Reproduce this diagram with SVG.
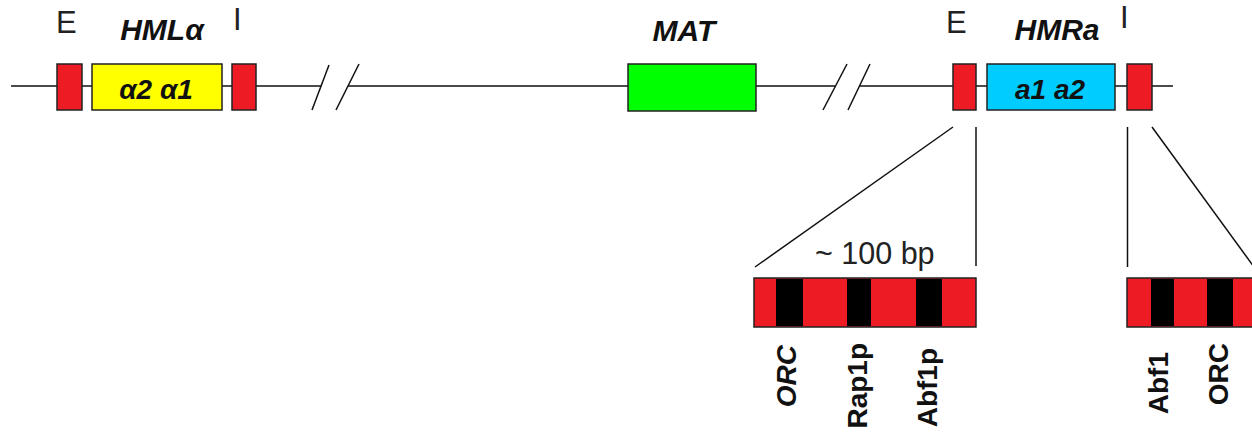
<svg xmlns="http://www.w3.org/2000/svg" width="1252" height="435" viewBox="0 0 1252 435">
<style>
.ln{stroke:#111;stroke-width:1.5;fill:none}
.box{stroke:#222;stroke-width:1.5}
.red{fill:#ed1c24}
.blk{fill:#000}
.lbl{font-family:"Liberation Sans",Arial,sans-serif;font-size:31px;fill:#222}
.gene{font-family:"Liberation Sans",Arial,sans-serif;font-size:30px;font-weight:bold;font-style:italic;fill:#111;text-anchor:middle}
.in{font-family:"Liberation Sans",Arial,sans-serif;font-size:28px;font-weight:bold;font-style:italic;fill:#111;text-anchor:middle}
.vt{font-family:"Liberation Sans",Arial,sans-serif;font-size:28px;font-weight:bold;fill:#111;text-anchor:end}
</style>
<rect width="1252" height="435" fill="#fff"/>
<g id="connectors">
<line class="ln" x1="11" y1="86" x2="321" y2="86"/>
<line class="ln" x1="348" y1="86" x2="835" y2="86"/>
<line class="ln" x1="860" y1="86" x2="1173" y2="86"/>
<line class="ln" x1="312" y1="110" x2="329" y2="65"/>
<line class="ln" x1="336" y1="110" x2="359" y2="64"/>
<line class="ln" x1="823" y1="110" x2="847" y2="64"/>
<line class="ln" x1="848" y1="110" x2="870" y2="64"/>
<line class="ln" x1="953" y1="127" x2="755" y2="267"/>
<line class="ln" x1="976" y1="127" x2="976" y2="266"/>
<line class="ln" x1="1127.5" y1="127" x2="1127.5" y2="267"/>
<line class="ln" x1="1152" y1="127" x2="1254" y2="267"/>
</g>
<g id="hml-e"><rect class="box red" x="57" y="64" width="25" height="46"/><text class="lbl" x="56" y="33">E</text></g>
<g id="hml"><rect class="box" fill="#ffff00" x="92" y="64" width="130" height="46"/><text class="gene" x="162" y="40">HMLα</text><text class="in" x="156" y="99">α2 α1</text></g>
<g id="hml-i"><rect class="box red" x="232" y="64" width="24" height="46"/><text class="lbl" x="233" y="30">I</text></g>
<g id="mat"><rect class="box" fill="#00ff00" x="628" y="64" width="128" height="47"/><text class="gene" x="684" y="41">MAT</text></g>
<g id="hmr-e"><rect class="box red" x="953" y="64" width="23" height="46"/><text class="lbl" x="946" y="33">E</text></g>
<g id="hmr"><rect class="box" fill="#00ccff" x="987" y="64" width="128" height="46"/><text class="gene" x="1057" y="40">HMRa</text><text class="in" x="1050" y="99">a1 a2</text></g>
<g id="hmr-i"><rect class="box red" x="1127" y="64" width="25" height="46"/><text class="lbl" x="1120" y="28">I</text></g>
<g id="e-detail">
<rect class="box red" x="754" y="278" width="222" height="49"/>
<rect class="blk" x="776" y="279" width="27" height="47"/>
<rect class="blk" x="847" y="279" width="24" height="47"/>
<rect class="blk" x="916" y="279" width="26" height="47"/>
<text class="lbl" x="815" y="264" style="font-size:30.5px">~ 100 bp</text>
<text class="vt" transform="translate(796,345) rotate(-90)" style="font-style:italic">ORC</text>
<text class="vt" transform="translate(867,343) rotate(-90)">Rap1p</text>
<text class="vt" transform="translate(937,348) rotate(-90)">Abf1p</text>
</g>
<g id="i-detail">
<rect class="box red" x="1127" y="278" width="130" height="49"/>
<rect class="blk" x="1151" y="279" width="23" height="47"/>
<rect class="blk" x="1207" y="279" width="26" height="47"/>
<text class="vt" transform="translate(1168,352) rotate(-90)">Abf1</text>
<text class="vt" transform="translate(1228,343) rotate(-90)">ORC</text>
</g>
</svg>
